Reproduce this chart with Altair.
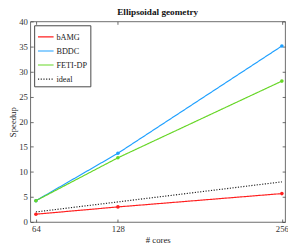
import altair as alt
import pandas as pd

cores = [64, 128, 256]
series = ["bAMG", "BDDC", "FETI-DP", "ideal"]
bamg = [1.55, 3.0, 5.66]
bddc = [4.24, 13.7, 35.1]
fetidp = [4.24, 12.8, 28.1]
ideal = [2, 4, 8]
y_ticks = [0, 5, 10, 15, 20, 25, 30, 35, 40]

colors = ["#ff1f1f", "#1fa0ff", "#66d626", "#222222"]
dashes = [[1, 0], [1, 0], [1, 0], [1.2, 1.6]]

rows = []
for name, vals in zip(series, [bamg, bddc, fetidp, ideal]):
    for c, v in zip(cores, vals):
        rows.append({"cores": c, "speedup": v, "series": name})
df = pd.DataFrame(rows)

FONT = "Liberation Serif"
xscale = alt.Scale(domain=[59.6, 258.5], nice=False, zero=False)
yscale = alt.Scale(domain=[0, 40], nice=False)
cscale = alt.Scale(domain=series, range=colors)
dscale = alt.Scale(domain=series, range=dashes)

legend = alt.Legend(title=None, orient="none", legendX=4, legendY=4)

lines = alt.Chart(df).mark_line(strokeWidth=1.2).encode(
    x=alt.X("cores:Q", scale=xscale,
            axis=alt.Axis(values=cores, title="# cores", ticks=False, domain=False,
                          grid=False, labelPadding=3, titlePadding=2)),
    y=alt.Y("speedup:Q", scale=yscale,
            axis=alt.Axis(values=y_ticks, title="Speedup", ticks=False, domain=False,
                          grid=False, labelPadding=3, titlePadding=1)),
    color=alt.Color("series:N", scale=cscale, legend=legend),
    strokeDash=alt.StrokeDash("series:N", scale=dscale, legend=legend),
)

tick_axis = dict(labels=False, title=None, domain=False, grid=False,
                 ticks=True, tickSize=3, offset=-3)

pts = alt.Chart(df).transform_filter(alt.datum.series != "ideal").mark_point(
    filled=True, size=14, opacity=1).encode(
    x=alt.X("cores:Q", scale=xscale,
            axis=alt.Axis(values=cores, orient="bottom", **tick_axis)),
    y=alt.Y("speedup:Q", scale=yscale,
            axis=alt.Axis(values=y_ticks, orient="left", **tick_axis)),
    color=alt.Color("series:N", scale=cscale, legend=legend),
)

ghost = alt.Chart(df).mark_point(opacity=0).encode(
    x=alt.X("cores:Q", scale=xscale,
            axis=alt.Axis(values=cores, orient="top", **tick_axis)),
    y=alt.Y("speedup:Q", scale=yscale,
            axis=alt.Axis(values=y_ticks, orient="right", **tick_axis)),
)

chart = alt.layer(lines, pts, ghost).resolve_axis(
    x="independent", y="independent"
).properties(
    width=263, height=207,
    padding={"left": 23, "top": 10, "right": 3, "bottom": 22},
    autosize=alt.AutoSizeParams(type="none"),
    title=alt.TitleParams("Ellipsoidal geometry", font=FONT, fontSize=9.5,
                          fontWeight="bold", offset=1, color="#111"),
).configure_view(stroke="#444", strokeWidth=0.8).configure_axis(
    labelFont=FONT, titleFont=FONT, labelFontSize=9, titleFontSize=9,
    labelColor="#333", titleColor="#222", titleFontWeight="normal",
    tickColor="#444", tickWidth=0.8,
).configure_legend(
    labelFont=FONT, labelFontSize=8.5,
    labelColor="#222", symbolType="stroke", symbolSize=260, symbolStrokeWidth=1.2,
    strokeColor="#444", fillColor="white", padding=3, rowPadding=0.5,
    labelOffset=2, cornerRadius=0,
)

chart.save("out.html", embed_options={"renderer": "svg", "actions": False})
